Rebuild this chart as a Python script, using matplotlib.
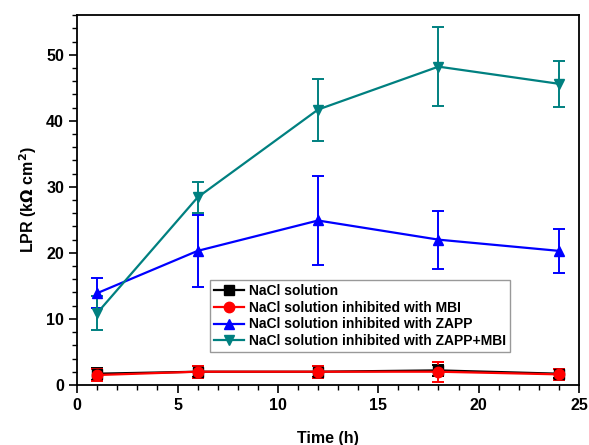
import matplotlib
matplotlib.use("Agg")
import matplotlib.pyplot as plt
from matplotlib.ticker import MultipleLocator

plt.rcParams['font.family'] = ['Liberation Sans', 'DejaVu Sans']
plt.rcParams['font.weight'] = 'bold'

# datos
time_h = [1, 6, 12, 18, 24]

nacl = [1.7, 2.0, 2.0, 2.2, 1.7]
nacl_err = [0.9, 0.8, 0.8, 0.8, 0.7]

mbi = [1.5, 2.0, 2.0, 2.0, 1.6]
mbi_err = [0.9, 0.9, 0.9, 1.5, 0.8]

zapp = [13.9, 20.3, 24.9, 22.0, 20.3]
zapp_err = [2.3, 5.4, 6.7, 4.4, 3.3]

zapp_mbi = [10.9, 28.4, 41.7, 48.2, 45.6]
zapp_mbi_err = [2.6, 2.3, 4.7, 6.0, 3.5]

labels = ['NaCl solution',
          'NaCl solution inhibited with MBI',
          'NaCl solution inhibited with ZAPP',
          'NaCl solution inhibited with ZAPP+MBI']
colors = ['black', 'red', 'blue', '#008080']
markers = ['s', 'o', '^', 'v']

fig = plt.figure(figsize=(5.89, 4.45), dpi=100)
ax = fig.add_axes([0.131, 0.135, 0.852, 0.831])

series = [(nacl, nacl_err), (mbi, mbi_err), (zapp, zapp_err), (zapp_mbi, zapp_mbi_err)]
for (vals, errs), lab, c, m in zip(series, labels, colors, markers):
    ax.errorbar(time_h, vals, yerr=errs, color=c, marker=m, markersize=7.5,
                linewidth=1.6, elinewidth=1.4, capsize=4, capthick=1.4, label=lab)

ax.set_xlim(0, 25)
ax.set_ylim(0, 56)
ax.xaxis.set_major_locator(MultipleLocator(5))
ax.xaxis.set_minor_locator(MultipleLocator(1))
ax.yaxis.set_major_locator(MultipleLocator(10))
ax.yaxis.set_minor_locator(MultipleLocator(2))
ax.tick_params(which='major', direction='out', length=6, width=1.2, labelsize=11.5)
ax.tick_params(which='minor', direction='out', length=3.5, width=1.0)
for s in ax.spines.values():
    s.set_linewidth(1.3)

ax.set_xlabel('Time (h)', fontsize=11.5, fontweight='bold', labelpad=13)
ax.set_ylabel(r'LPR (k$\Omega$ cm$^2$)', fontsize=11.5, fontweight='bold', labelpad=5)

handles, labs = ax.get_legend_handles_labels()
handles = [h[0] for h in handles]
leg = ax.legend(handles, labs, loc='lower left', bbox_to_anchor=(0.264, 0.088),
                fontsize=10, frameon=True, fancybox=False, edgecolor='gray',
                handlelength=2.2, handletextpad=0.3, borderpad=0.3, labelspacing=0.2,
                borderaxespad=0)
leg.get_frame().set_linewidth(1.0)

fig.savefig('out.png', dpi=100)
